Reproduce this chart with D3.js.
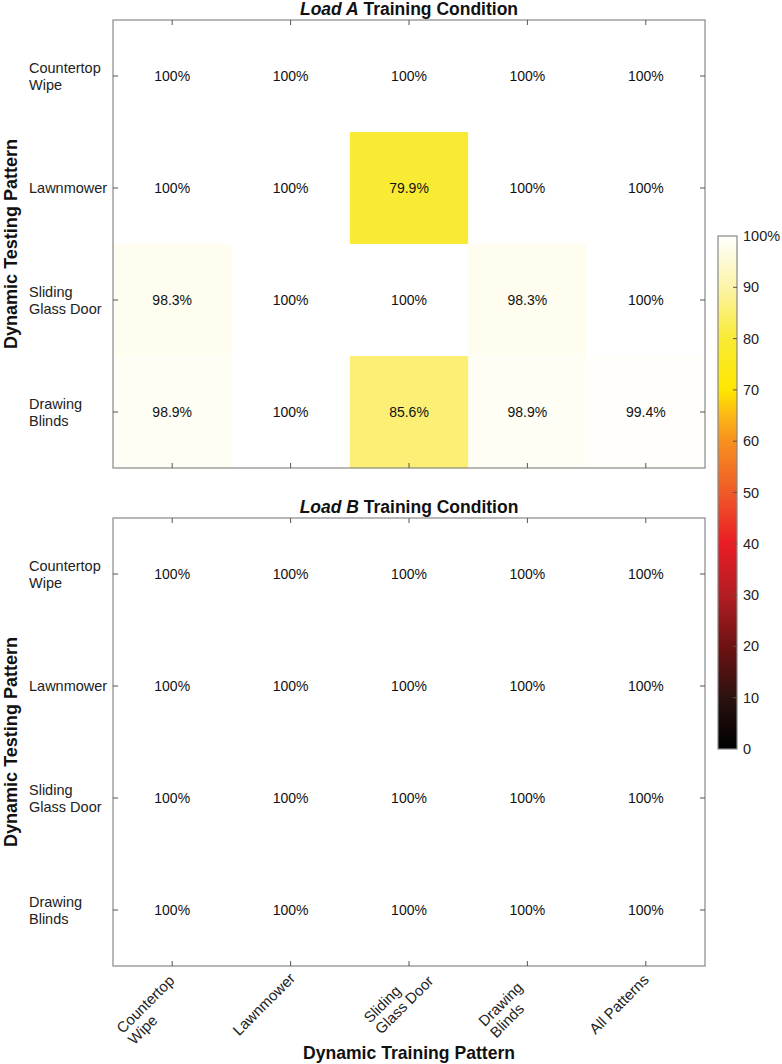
<!DOCTYPE html>
<html>
<head>
<meta charset="utf-8">
<title>Load A / Load B heatmap</title>
<script src="https://d3js.org/d3.v7.min.js"></script>
<style>
  body { margin: 0; background: #fff; }
  text { font-family: "Liberation Sans", Arial, sans-serif; }
</style>
</head>
<body>
<div id="chart"></div>
<script>
// data
const trainPatterns = [["Countertop", "Wipe"], ["Lawnmower"], ["Sliding", "Glass Door"], ["Drawing", "Blinds"], ["All Patterns"]];
const testPatterns = [["Countertop", "Wipe"], ["Lawnmower"], ["Sliding", "Glass Door"], ["Drawing", "Blinds"]];
const loadA = [
  [100, 100, 100, 100, 100],
  [100, 100, 79.9, 100, 100],
  [98.3, 100, 100, 98.3, 100],
  [98.9, 100, 85.6, 98.9, 99.4]
];
const loadB = [
  [100, 100, 100, 100, 100],
  [100, 100, 100, 100, 100],
  [100, 100, 100, 100, 100],
  [100, 100, 100, 100, 100]
];
const colorStops = [0, 10, 20, 30, 40, 50, 60, 65, 70, 80, 90, 100];
const colorValues = ["#000000", "#2b1210", "#6e1212", "#b31e24", "#ea1c24", "#f05a28",
                     "#f7901e", "#fcb814", "#ffe600", "#f9eb35", "#fcf4a8", "#ffffff"];
const cbTicks = [0, 10, 20, 30, 40, 50, 60, 70, 80, 90, 100];

const W = 782, H = 1064;
const left = 113, right = 705;
const panels = [
  {data: loadA, top: 20, bottom: 468, name: "Load A"},
  {data: loadB, top: 518, bottom: 966, name: "Load B"}
];

const svg = d3.select("#chart").append("svg")
  .attr("width", W).attr("height", H);

const color = d3.scaleLinear().domain(colorStops).range(colorValues);
const keyOf = d => d.join(" ");

const x = d3.scaleBand().domain(trainPatterns.map(keyOf)).range([left, right]);

const fmt = v => v === 100 ? "100%" : v.toFixed(1) + "%";

panels.forEach(p => {
  const y = d3.scaleBand().domain(testPatterns.map(keyOf)).range([p.top, p.bottom]);
  const g = svg.append("g");

  const cells = [];
  p.data.forEach((row, i) => row.forEach((v, j) => cells.push({r: keyOf(testPatterns[i]), c: keyOf(trainPatterns[j]), v: v})));

  g.selectAll("rect.cell").data(cells).enter().append("rect")
    .attr("class", "cell")
    .attr("x", d => x(d.c)).attr("y", d => y(d.r))
    .attr("width", x.bandwidth() + 0.5).attr("height", y.bandwidth() + 0.5)
    .attr("fill", d => color(d.v));

  g.selectAll("text.val").data(cells).enter().append("text")
    .attr("class", "val")
    .attr("x", d => x(d.c) + x.bandwidth() / 2)
    .attr("y", d => y(d.r) + y.bandwidth() / 2)
    .attr("text-anchor", "middle").attr("dominant-baseline", "central")
    .attr("font-size", "14px").attr("fill", "#111")
    .text(d => fmt(d.v));

  // box
  g.append("rect").attr("x", left).attr("y", p.top)
    .attr("width", right - left).attr("height", p.bottom - p.top)
    .attr("fill", "none").attr("stroke", "#888").attr("stroke-width", 1.2);

  // ticks, mirrored on all sides
  const tl = 5;
  trainPatterns.forEach(t => {
    const cx = x(keyOf(t)) + x.bandwidth() / 2;
    g.append("line").attr("x1", cx).attr("x2", cx).attr("y1", p.top).attr("y2", p.top + tl).attr("stroke", "#555");
    g.append("line").attr("x1", cx).attr("x2", cx).attr("y1", p.bottom).attr("y2", p.bottom - tl).attr("stroke", "#555");
  });
  testPatterns.forEach(t => {
    const cy = y(keyOf(t)) + y.bandwidth() / 2;
    g.append("line").attr("x1", left).attr("x2", left + tl).attr("y1", cy).attr("y2", cy).attr("stroke", "#555");
    g.append("line").attr("x1", right).attr("x2", right - tl).attr("y1", cy).attr("y2", cy).attr("stroke", "#555");
    const lab = g.append("text").attr("font-size", "14.5px").attr("fill", "#222");
    t.forEach((line, k) => {
      lab.append("tspan").attr("x", 29)
        .attr("y", cy + (k - (t.length - 1) / 2) * 17)
        .attr("dominant-baseline", "central")
        .text(line);
    });
  });

  // title
  const tt = g.append("text").attr("x", (left + right) / 2).attr("y", p.top - 5)
    .attr("text-anchor", "middle").attr("font-size", "17.5px").attr("font-weight", "bold").attr("fill", "#111");
  tt.append("tspan").attr("font-style", "italic").text(p.name);
  tt.append("tspan").text(" Training Condition");

  // y axis title
  svg.append("text")
    .attr("transform", "translate(17," + ((p.top + p.bottom) / 2) + ") rotate(-90)")
    .attr("text-anchor", "middle").attr("font-size", "19px").attr("font-weight", "bold")
    .attr("fill", "#111")
    .attr("textLength", 210).attr("lengthAdjust", "spacingAndGlyphs")
    .text("Dynamic Testing Pattern");

  // x tick labels only under the bottom panel
  if (p.name === "Load B") {
    trainPatterns.forEach(t => {
      const cx = x(keyOf(t)) + x.bandwidth() / 2;
      const lg = svg.append("g").attr("transform", "translate(" + (cx - 27) + "," + (p.bottom + 38) + ") rotate(-45)");
      const lab = lg.append("text").attr("font-size", "15px").attr("fill", "#222");
      const first = lab.append("tspan").attr("x", 0).attr("y", 0)
        .attr("dominant-baseline", "central").text(t[0]);
      const w1 = first.node().getComputedTextLength();
      first.attr("x", -w1 / 2);
      t.slice(1).forEach((line, k) => {
        lab.append("tspan").attr("x", -w1 / 2).attr("y", (k + 1) * 16)
          .attr("dominant-baseline", "central").text(line);
      });
    });
  }
});

// x axis title
svg.append("text").attr("x", (left + right) / 2).attr("y", 1059)
  .attr("text-anchor", "middle").attr("font-size", "19px").attr("font-weight", "bold")
  .attr("fill", "#111")
  .attr("textLength", 212).attr("lengthAdjust", "spacingAndGlyphs")
  .text("Dynamic Training Pattern");

// colorbar
const cbX = 718, cbW = 19;
const cy = d3.scaleLinear().domain([0, 100]).range([749, 236]);
const grad = svg.append("defs").append("linearGradient").attr("id", "cbgrad")
  .attr("x1", 0).attr("y1", 1).attr("x2", 0).attr("y2", 0);
grad.selectAll("stop").data(colorStops).enter().append("stop")
  .attr("offset", d => d / 100).attr("stop-color", d => color(d));
svg.append("rect").attr("x", cbX).attr("y", cy(100)).attr("width", cbW).attr("height", cy(0) - cy(100))
  .attr("fill", "url(#cbgrad)").attr("stroke", "#888").attr("stroke-width", 1.2);
cbTicks.forEach(t => {
  if (t > 0 && t < 100) {
    svg.append("line").attr("x1", cbX + cbW).attr("x2", cbX + cbW - 4)
      .attr("y1", cy(t)).attr("y2", cy(t)).attr("stroke", "#555");
  }
  svg.append("text").attr("x", cbX + cbW + 6).attr("y", cy(t))
    .attr("dominant-baseline", "central").attr("font-size", "14.5px").attr("fill", "#222")
    .text(t === 100 ? "100%" : t);
});
</script>
</body>
</html>
